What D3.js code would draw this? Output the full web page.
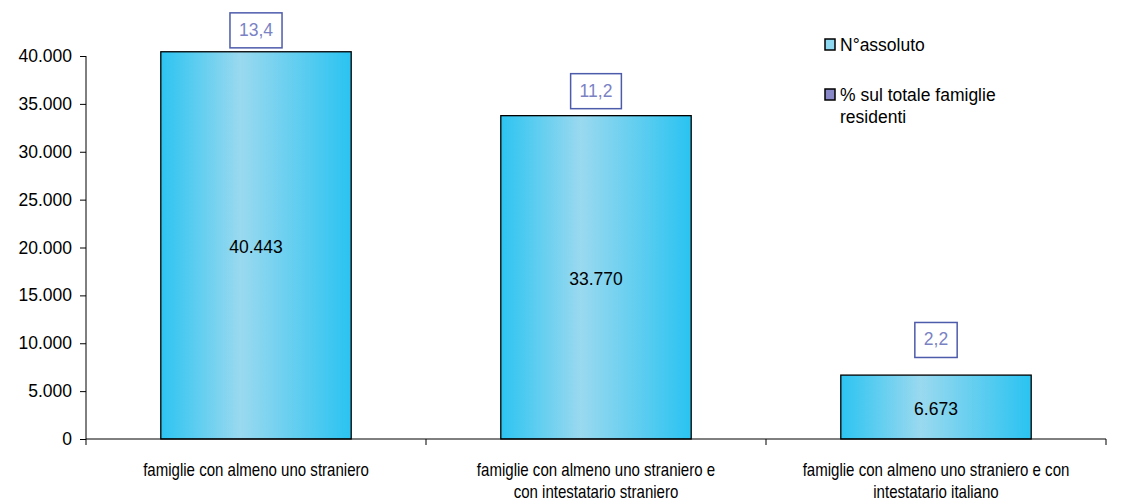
<!DOCTYPE html>
<html><head><meta charset="utf-8">
<script src="https://cdn.jsdelivr.net/npm/d3@7"></script>
<style>body{margin:0;background:#fff}svg{display:block;font-family:"Liberation Sans",Arial,sans-serif}</style>
</head><body><svg id="c" width="1121" height="501"></svg>
<script>
const categories = [
  ["famiglie con almeno uno straniero"],
  ["famiglie con almeno uno straniero e", "con intestatario straniero"],
  ["famiglie con almeno uno straniero e con", "intestatario italiano"]
];
const absValues = [40443, 33770, 6673];
const absLabels = ["40.443", "33.770", "6.673"];
const pctValues = [13.4, 11.2, 2.2];
const pctLabels = ["13,4", "11,2", "2,2"];
const yTicks = [0, 5000, 10000, 15000, 20000, 25000, 30000, 35000, 40000];
const yTickLabels = ["0", "5.000", "10.000", "15.000", "20.000", "25.000", "30.000", "35.000", "40.000"];
const legendLabels = [["N°assoluto"], ["% sul totale famiglie", "residenti"]];

const svg = d3.select("#c");
const left = 86, right = 1106, bottom = 439;
const FS = 17.5;
const x = d3.scaleBand().domain(d3.range(categories.length)).range([left, right]).paddingInner(0).paddingOuter(0);
const y = d3.scaleLinear().domain([0, 40000]).range([bottom, 56]);
const y2 = d3.scaleLinear().domain([-1.4, 14.48]).range([bottom, 0]);
const barW = x.bandwidth() * 0.56;

const defs = svg.append("defs");
const g = defs.append("linearGradient").attr("id", "bg").attr("x1", "0").attr("x2", "1").attr("y1", "0").attr("y2", "0");
g.append("stop").attr("offset", "0").attr("stop-color", "#2cc4f1");
g.append("stop").attr("offset", "0.42").attr("stop-color", "#9ad9ef");
g.append("stop").attr("offset", "1").attr("stop-color", "#2ac3f1");

// bars
svg.selectAll("rect.bar").data(absValues).join("rect").attr("class", "bar")
  .attr("x", (d, i) => x(i) + (x.bandwidth() - barW) / 2)
  .attr("y", d => y(d)).attr("width", barW).attr("height", d => bottom - y(d))
  .attr("fill", "url(#bg)").attr("stroke", "#000").attr("stroke-width", 1.3);

// bar value labels
svg.selectAll("text.val").data(absValues).join("text").attr("class", "val")
  .attr("x", (d, i) => x(i) + x.bandwidth() / 2)
  .attr("y", d => (y(d) + bottom) / 2 + 8)
  .attr("text-anchor", "middle").attr("font-size", FS).attr("fill", "#000")
  .text((d, i) => absLabels[i]);

// axes
const yAxis = d3.axisLeft(y).tickValues(yTicks).tickFormat((d, i) => yTickLabels[i]).tickSize(6).tickPadding(8);
const ya = svg.append("g").attr("transform", `translate(${left},0)`).call(yAxis);
ya.select(".domain").attr("d", `M0,${y(40000)}V${bottom}`).attr("stroke", "#000");
ya.selectAll("text").attr("font-size", FS).attr("fill", "#000").attr("font-family", "Liberation Sans, Arial, sans-serif");

const xa = svg.append("g");
xa.append("line").attr("x1", left).attr("x2", right).attr("y1", bottom).attr("y2", bottom).attr("stroke", "#000");
const xt = d3.range(categories.length + 1).map(i => i < categories.length ? x(i) : right);
xa.selectAll("line.t").data(xt).join("line").attr("class", "t")
  .attr("x1", d => d).attr("x2", d => d).attr("y1", bottom).attr("y2", bottom + 6).attr("stroke", "#000");
categories.forEach((lines, i) => {
  const cx = x(i) + x.bandwidth() / 2;
  const t = svg.append("text").attr("text-anchor", "middle").attr("font-size", FS).attr("fill", "#000")
    .attr("transform", `translate(${cx},0) scale(0.86,1)`);
  lines.forEach((l, j) => t.append("tspan").attr("x", 0).attr("y", 476 + j * 22).text(l));
});

// percentage labels (secondary scale)
pctValues.forEach((p, i) => {
  const cx = x(i) + x.bandwidth() / 2, cy = y2(p);
  const t = svg.append("text").attr("x", cx).attr("y", cy + 6).attr("text-anchor", "middle")
    .attr("font-size", FS).attr("fill", "#7b82c4").text(pctLabels[i]);
  const w = t.node().getComputedTextLength() + 18;
  svg.insert("rect", "text").attr("x", cx - w / 2).attr("y", cy - 17).attr("width", w).attr("height", 35)
    .attr("fill", "#fff").attr("stroke", "#4d5bab").attr("stroke-width", 1.5);
});

// legend
const lg = svg.append("g");
const lfills = ["#8fd8f2", "#8888c8"];
legendLabels.forEach((lines, i) => {
  const yy = 45 + i * 50;
  lg.append("rect").attr("x", 825).attr("y", yy - 6).attr("width", 10).attr("height", 11)
    .attr("fill", lfills[i]).attr("stroke", "#000").attr("stroke-width", 1.5);
  const t = lg.append("text").attr("font-size", FS).attr("fill", "#000");
  lines.forEach((l, j) => t.append("tspan").attr("x", 840).attr("y", yy + 6 + j * 22).text(l));
});
</script></body></html>
